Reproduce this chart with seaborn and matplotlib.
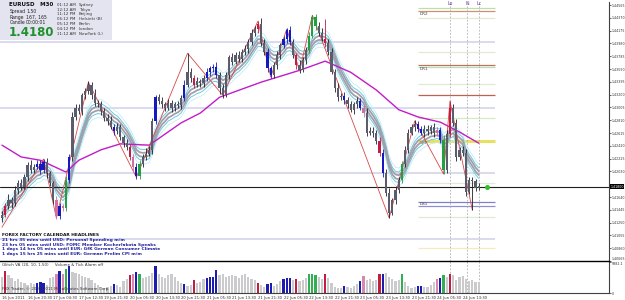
import numpy as np
import pandas as pd
import seaborn as sns
import matplotlib.pyplot as plt
import matplotlib.transforms as mtransforms
from matplotlib.patches import Rectangle

# EURUSD bars, closes in pips above 1.4000 (one value per bar)
closes = [137, 150, 160, 155, 175, 185, 180, 195, 213, 205,
          210, 215, 205, 218, 200, 185, 160, 135, 150, 148,
          190, 225, 286, 300, 295, 319, 325, 335, 320, 307,
          305, 295, 285, 280, 271, 265, 270, 255, 246, 240,
          225, 210, 196, 215, 225, 230, 236, 280, 316, 310,
          305, 300, 307, 300, 305, 304, 315, 335, 355, 345,
          335, 340, 337, 345, 355, 360, 362, 350, 330, 320,
          350, 377, 370, 380, 375, 385, 390, 400, 414, 420,
          428, 399, 385, 360, 350, 365, 380, 395, 405, 418,
          400, 380, 365, 358, 372, 388, 410, 438, 425, 414,
          405, 399, 385, 355, 330, 316, 318, 312, 305, 297,
          305, 310, 300, 292, 262, 265, 262, 250, 231, 201,
          170, 140, 159, 175, 190, 215, 236, 262, 271, 275,
          268, 262, 268, 264, 270, 262, 266, 251, 205, 260,
          300, 277, 225, 236, 231, 172, 190, 188, 178, 181]
wick_up = [6, 5, 8, 4, 6, 5, 7, 4, 5, 8, 4, 5, 6, 4, 5, 3, 4, 6, 5, 4,
           6, 4, 8, 5, 6, 4, 5, 6, 4, 9, 5, 6, 4, 5, 8, 4, 6, 5, 4, 6,
           5, 4, 6, 5, 4, 8, 6, 5, 4, 5, 6, 4, 7, 5, 4, 6, 4, 8, 28, 6,
           5, 7, 4, 5, 6, 4, 5, 8, 4, 6, 5, 4, 6, 5, 7, 4, 5, 4, 6, 4,
           4, 8, 5, 6, 4, 5, 6, 4, 5, 4, 6, 5, 4, 7, 5, 4, 6, 3, 5, 6,
           8, 30, 5, 6, 4, 7, 5, 6, 4, 5, 4, 6, 5, 4, 8, 5, 6, 4, 5, 6,
           5, 7, 4, 6, 5, 4, 6, 5, 4, 6, 5, 4, 6, 5, 4, 6, 5, 4, 7, 6,
           10, 5, 6, 4, 5, 6, 4, 5, 4, 5]
wick_dn = [6, 4, 5, 7, 4, 6, 5, 4, 6, 5, 5, 4, 6, 5, 7, 4, 6, 5, 4, 6,
           5, 4, 6, 5, 4, 6, 5, 4, 6, 5, 4, 6, 5, 7, 4, 6, 5, 4, 6, 5,
           4, 6, 5, 4, 6, 5, 4, 6, 5, 4, 6, 5, 4, 6, 5, 4, 6, 5, 4, 6,
           5, 4, 6, 5, 4, 6, 5, 4, 9, 5, 4, 6, 5, 4, 6, 5, 4, 6, 5, 4,
           6, 5, 4, 6, 5, 4, 6, 5, 4, 6, 5, 4, 6, 5, 4, 6, 5, 4, 6, 5,
           4, 6, 5, 4, 6, 5, 4, 6, 5, 4, 6, 5, 4, 6, 5, 4, 6, 5, 4, 6,
           5, 8, 4, 6, 5, 4, 6, 5, 4, 6, 5, 4, 6, 5, 4, 6, 5, 4, 6, 5,
           4, 5, 6, 4, 5, 6, 4, 44, 5, 4]
volume = [3000, 4200, 3400, 2800, 2200, 2600, 2000, 1800, 1500, 1900,
          1600, 1800, 2000, 1900, 1500, 2800, 3000, 3600, 4200, 3500,
          4500, 5000, 4000, 3800, 3600, 3200, 3000, 2800, 2500, 1800,
          1500, 1200, 1000, 1100, 1300, 1700, 1500, 1200, 2200, 2600,
          3400, 3600, 3900, 3600, 2800, 3000, 3200, 3800, 5000, 3500,
          3000, 2800, 3300, 3600, 3000, 2200, 1800, 1600, 1300, 1500,
          2400, 1800, 2000, 2600, 2800, 3000, 3000, 4400, 3400, 3600,
          3000, 3200, 3400, 3100, 2900, 3300, 3500, 3000, 2600, 2400,
          1800, 1500, 1200, 1700, 1800, 1400, 1600, 2200, 2600, 2800,
          2900, 2500, 2700, 2200, 2500, 2800, 3600, 3600, 3300, 3000,
          2600, 3500, 2800, 1800, 1200, 900, 1000, 1300, 1100, 1000,
          1300, 1600, 2300, 3200, 2400, 2600, 2200, 2500, 3600, 3500,
          3800, 3000, 2600, 2200, 2400, 3500, 2000, 1300, 900, 1200,
          1300, 1300, 1100, 1200, 1500, 2100, 2700, 2900, 3400, 3000,
          3500, 3300, 2500, 3000, 3200, 2700, 2200, 2400, 2000, 2100]
blue_bars = [11, 12, 13, 18, 21, 35, 42, 48, 57, 64, 65, 66, 67, 83, 84, 88, 89, 90,
             107, 112, 119, 130, 131, 137]
red_bars = [1, 40, 60, 80, 92, 101, 118, 140]
pink_bars = [17, 19, 41, 113, 136]
green_bars = [20, 43, 96, 97, 98, 125, 138]

# slow moving average (magenta) and zigzag swings, pips above 1.4000
ma_idx = [0, 6, 12, 20, 24, 31, 37, 46, 56, 62, 68, 81, 93, 101, 109, 117, 124, 130, 137, 143, 149]
ma_pips = [243, 225, 220, 202, 220, 236, 245, 243, 277, 292, 316, 339, 357, 371, 354, 327, 297,
           286, 278, 263, 246]
zz_idx = [0, 13, 17, 27, 42, 58, 69, 80, 84, 89, 93, 97, 121, 129, 138, 140, 147]
zz_pips = [118, 222, 132, 339, 194, 383, 319, 432, 347, 420, 356, 441, 132, 280, 199, 310, 144]

round_levels = [1.4400, 1.4300, 1.4200, 1.4100]
pivot_prices = [1.4452, 1.4447, 1.4437, 1.4385, 1.4365, 1.4362, 1.4336, 1.4319, 1.4285,
                1.4250, 1.4186, 1.4157, 1.4150, 1.4134, 1.4086]
pivot_colors = ['#b8e0a8', '#d09070', '#e0ecd0', '#e0ecd0', '#c07060', '#b8e0a8', '#e0ecd0',
                '#c06050', '#d0ecc0', '#e8e060', '#e0ecd0', '#8080c8', '#9090d0', '#e0ecd0', '#f0ecc0']
pivot_labels = {'DR2': 1.4447, 'DR1': 1.4362, 'DPP': 1.4250, 'DS1': 1.4157}
session_idx = [140, 145.3, 149]
session_names = ['Lo', 'N', 'Lc']
last_price = 1.4180

date_labels = ['16 Jun 2011', '16 Jun 20:30', '17 Jun 04:30', '17 Jun 12:30', '19 Jun 21:30',
               '20 Jun 05:30', '20 Jun 13:30', '20 Jun 21:30', '21 Jun 05:30', '21 Jun 13:30',
               '21 Jun 21:30', '22 Jun 05:30', '22 Jun 13:30', '22 Jun 21:30', '23 Jun 05:30',
               '23 Jun 13:30', '23 Jun 21:30', '24 Jun 05:30', '24 Jun 13:30']

news = ['21 hrs 35 mins until USD: Personal Spending m/m',
        '23 hrs 05 mins until USD: FOMC Member Kocherlakota Speaks',
        '1 days 14 hrs 05 mins until EUR: GfK German Consumer Climate',
        '1 days 15 hrs 25 mins until EUR: German Prelim CPI m/m']
clock_times = ['01:12 AM', '12:12 AM', '11:12 PM', '06:12 PM', '05:12 PM', '04:12 PM', '11:12 AM']
clock_cities = ['Sydney', 'Tokyo', 'Beijing', 'Helsinki (B)', 'Berlin', 'London', 'NewYork (L)']

sns.set_style('white')
plt.rcParams['font.family'] = ['DejaVu Sans']

n = len(closes)
idx = np.arange(n)
c = 1.4 + np.array(closes) / 10000
o = np.r_[c[0] - 0.0005, c[:-1]]
hi = np.maximum(o, c) + np.array(wick_up) / 10000
lo = np.minimum(o, c) - np.array(wick_dn) / 10000

cols = np.array(['grey'] * n, dtype=object)
cols[blue_bars] = 'blue'
cols[red_bars] = 'red'
cols[pink_bars] = 'pink'
cols[green_bars] = 'green'
candle_pal = {'grey': '#5c5c6c', 'blue': '#1818c0', 'red': '#c41c40', 'pink': '#d070a0', 'green': '#20a040'}
vol_pal = {'grey': '#cbcbce', 'blue': '#1c1cb0', 'red': '#c41c40', 'pink': '#d888b0', 'green': '#30b050'}

fig = plt.figure(figsize=(6.25, 3.0), dpi=100)
ax = fig.add_axes([0, 0.13, 0.9744, 0.8633])
axv = fig.add_axes([0, 0.0233, 0.9744, 0.1067], sharex=ax)

xr = (-0.62, 189.7)
ax.set_xlim(*xr)
ax.set_ylim(1.40665, 1.44611)

# horizontal levels
for lv in round_levels:
    ax.hlines(lv, xr[0], 154, color='#d4d4ec', lw=1.2, zorder=1)
for p, col in zip(pivot_prices, pivot_colors):
    ax.hlines(p, 130, 154, color=col, lw=2.2 if col == '#e8e060' else 0.9, zorder=1)
for name, p in pivot_labels.items():
    ax.text(130.5, p - 0.00004, name, fontsize=3.0, color='#404040', va='top', zorder=2)
for sx, sn in zip(session_idx, session_names):
    ax.axvline(sx, color='#b0b0b0', lw=0.6, ls=(0, (2, 2)), zorder=1)
    axv.axvline(sx, color='#b0b0b0', lw=0.6, ls=(0, (2, 2)), zorder=1)
    ax.text(sx, 1.4455, sn, fontsize=3.4, color='#6a3fa0', ha='center', va='bottom')
ax.axhline(last_price, color='#202020', lw=0.8, zorder=3)

# bands around an exponential average of the closes
center = pd.Series(c).ewm(span=8).mean()
for off, col, lw in [(14, '#c4ecf4', 0.6), (-14, '#c4ecf4', 0.6), (8, '#70c8dc', 0.7), (-8, '#70c8dc', 0.7),
                     (3, '#a0a0ac', 1.3), (-3, '#a0a0ac', 1.3)]:
    sns.lineplot(x=idx, y=center + off / 10000, ax=ax, color=col, lw=lw, zorder=2)

sns.lineplot(x=ma_idx, y=1.4 + np.array(ma_pips) / 10000, ax=ax, color='#c21cc8', lw=1.0, zorder=3)
sns.lineplot(x=zz_idx, y=1.4 + np.array(zz_pips) / 10000, ax=ax, color='#d84848', lw=0.6, zorder=4)

# candles
ccol = [candle_pal[k] for k in cols]
ax.vlines(idx, lo, hi, colors=['#202028' if k == 'grey' else candle_pal[k] for k in cols], lw=0.6, zorder=5)
body = np.where(np.abs(c - o) < 0.00008, 0.00008, c - o)
ax.bar(idx, body, bottom=o, width=0.7, color=ccol, lw=0, zorder=6)
ax.plot([n + 1.6], [last_price], 'o', color='#30c030', ms=2.6, zorder=7)

# right price axis
ax.yaxis.tick_right()
ticks = [1.44565 - k * 0.00195 for k in range(21)]
ax.set_yticks(ticks)
ax.set_yticklabels(['' if k == 14 else '%.5f' % t for k, t in enumerate(ticks)], fontsize=2.3, color='#303030')
ax.get_yticklabels()[-1].set_va('bottom')
ax.tick_params(axis='y', length=1.5, width=0.5, pad=0.4)
ax.tick_params(axis='x', bottom=False, labelbottom=False)
trans = mtransforms.blended_transform_factory(ax.transAxes, ax.transData)
ax.text(1.002, last_price, '1.41800', transform=trans, fontsize=2.3, color='white', va='center',
        bbox=dict(boxstyle='square,pad=0.15', fc='black', ec='none'), zorder=8)
for s in ['top', 'left', 'bottom']:
    ax.spines[s].set_visible(False)
ax.spines['right'].set_color('#404040')
ax.spines['right'].set_linewidth(0.8)
ax.set_xlabel('')
ax.set_ylabel('')

# volume panel
axv.bar(idx, volume, width=0.7, color=[vol_pal[k] for k in cols], lw=0)
axv.set_ylim(0, 6000)
axv.yaxis.tick_right()
axv.set_yticks([0, 5882.1])
axv.set_yticklabels(['0', '5882.1'], fontsize=2.3, color='#303030')
axv.get_yticklabels()[1].set_va('top')
axv.tick_params(axis='y', length=1.5, width=0.5, pad=0.4)
axv.set_xticks(np.arange(0, 8 * len(date_labels), 8))
axv.set_xticklabels(date_labels, fontsize=2.7, ha='left', color='#303030')
axv.tick_params(axis='x', length=1.5, width=0.5, pad=0.8)
axv.spines['left'].set_visible(False)
axv.spines['top'].set_color('black')
axv.spines['top'].set_linewidth(1.0)
axv.spines['bottom'].set_color('#404040')
axv.spines['bottom'].set_linewidth(0.8)
axv.spines['right'].set_color('#404040')
axv.spines['right'].set_linewidth(0.8)
axv.text(0.004, 0.93, 'Glitch VA (20, 10, 1.50)     Volume & Tick Alarm off', transform=axv.transAxes,
         fontsize=2.9, va='top', color='#303030')
axv.text(0.004, 0.06, 'FBX Trader, \u00a9 2001-2011 MetaQuotes Software Corp.', transform=axv.transAxes,
         fontsize=2.9, va='bottom', color='#303030')

# info box and news (figure pixels)
W, H = 625, 300
fig.patches.append(Rectangle((0, 1 - 40 / H), 112 / W, 40 / H, transform=fig.transFigure,
                             fc='#e4e4f0', ec='none', zorder=0))


def ftext(x, y, s, **kw):
    fig.text(x / W, 1 - y / H, s, va='center', **kw)


ftext(9, 5, 'EURUSD   M30', fontsize=4.0, weight='bold', color='#101010')
for k, (lab, val) in enumerate([('Spread', '1.50'), ('Range', '167, 165'), ('Candle', '00:00:01')]):
    ftext(10, 11.5 + 5.7 * k, lab, fontsize=3.3, color='#202020')
    ftext(26, 11.5 + 5.7 * k, val, fontsize=3.3, color='#202020')
ftext(9, 32, '1.4180', fontsize=8.5, weight='bold', color='#20902c')
for k, (t, city) in enumerate(zip(clock_times, clock_cities)):
    ftext(57, 4.8 + 4.8 * k, t, fontsize=2.9, color='#303030')
    ftext(79, 4.8 + 4.8 * k, city, fontsize=2.9, color='#303030')
ftext(2, 235, 'FOREX FACTORY CALENDAR HEADLINES', fontsize=3.2, weight='bold', color='#101010')
for k, line in enumerate(news):
    ftext(2, 240.5 + 4.4 * k, line, fontsize=3.2, weight='bold', color='#2020a0')

fig.savefig('out.png', dpi=100)
